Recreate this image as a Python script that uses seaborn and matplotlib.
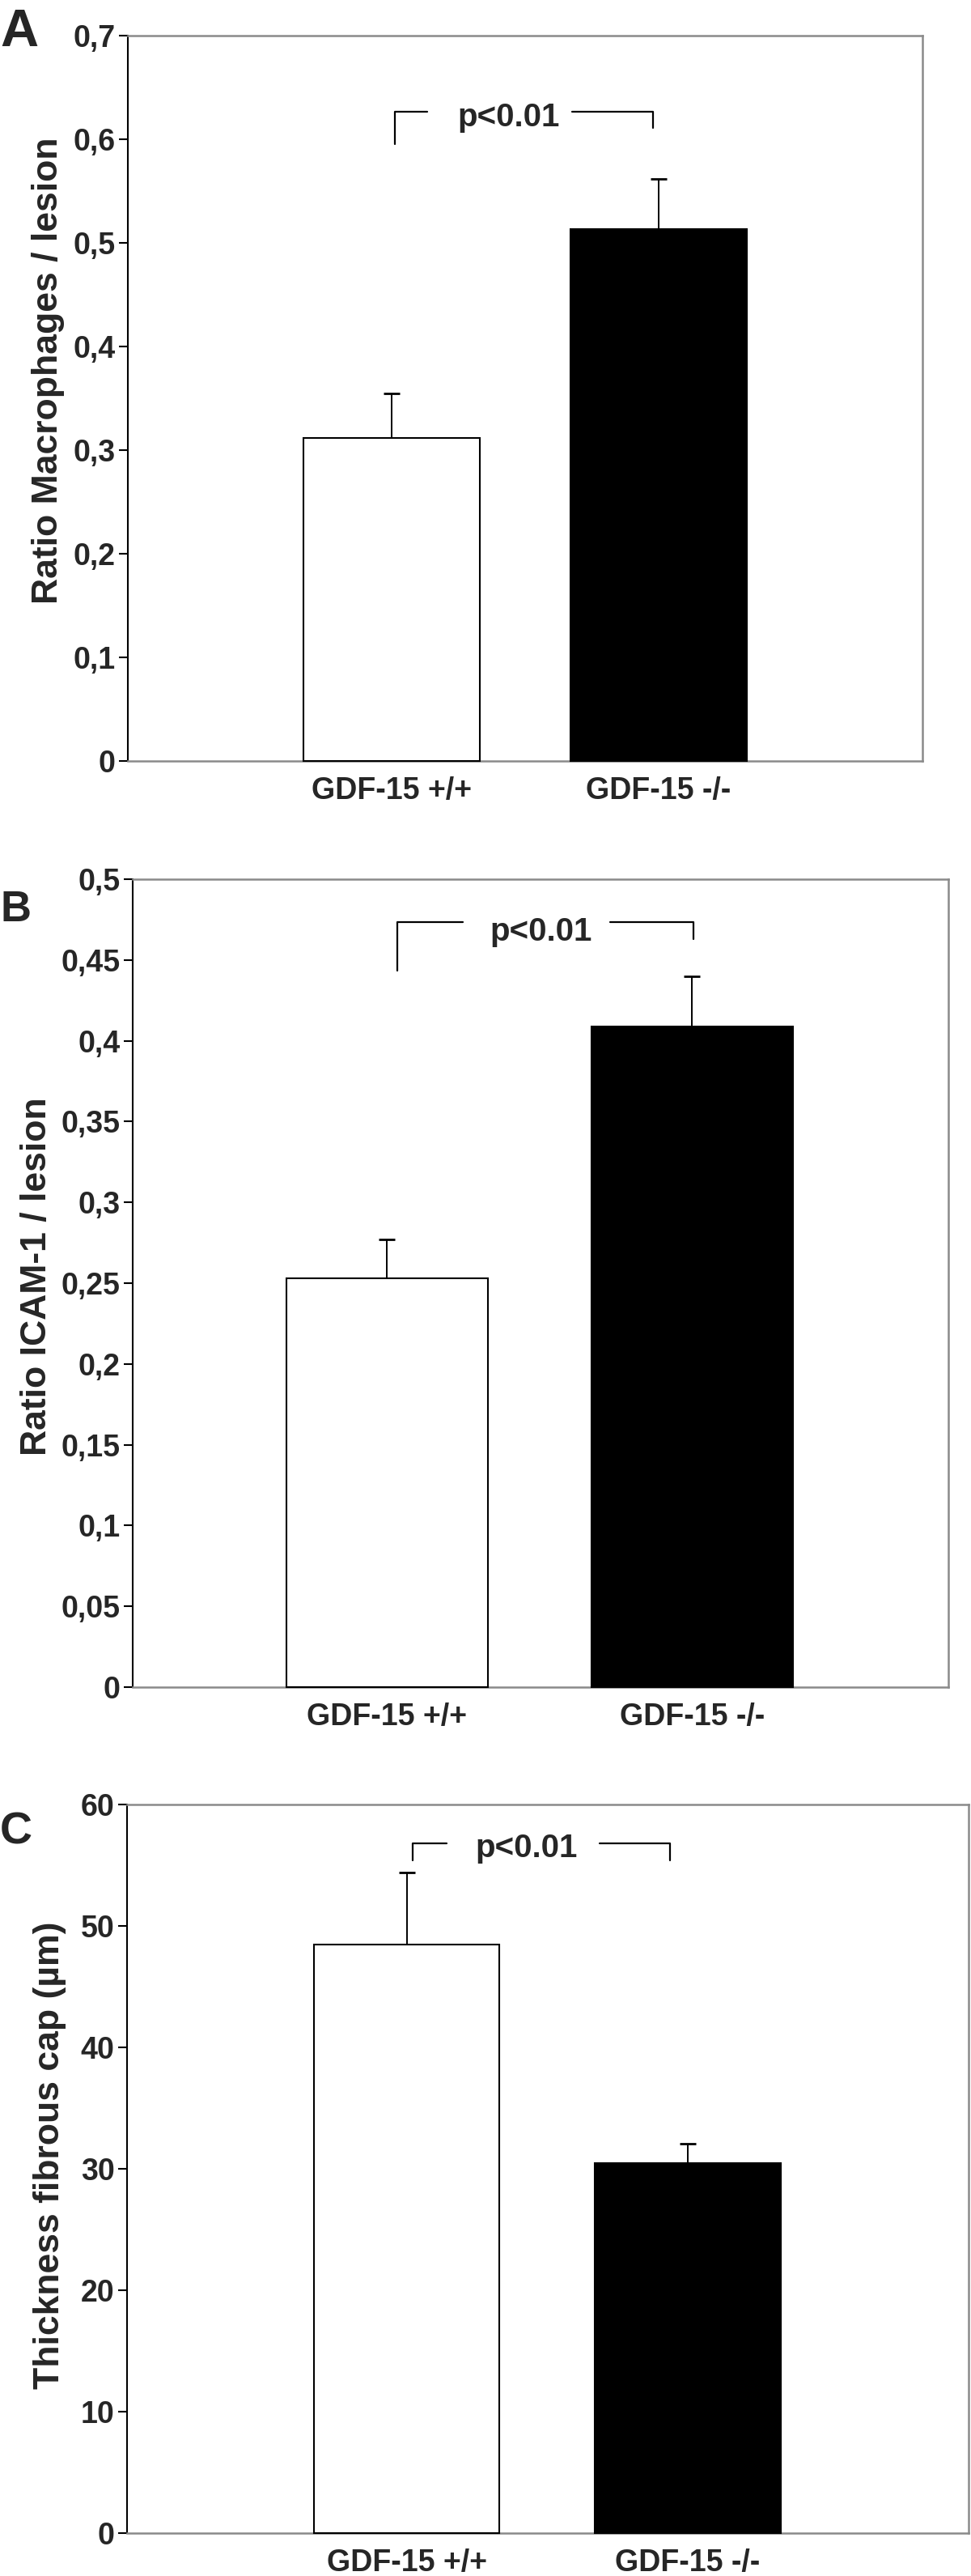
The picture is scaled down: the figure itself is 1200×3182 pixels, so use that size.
import numpy as np
import matplotlib.pyplot as plt
import seaborn as sns

# groups shared by all three panels
groups = ['GDF-15 +/+', 'GDF-15 -/-']
bar_colors = ['white', 'black']

# A: macrophages
mac_mean = [0.312, 0.513]
mac_err = [0.043, 0.049]
mac_ticks = [0, 0.1, 0.2, 0.3, 0.4, 0.5, 0.6, 0.7]
mac_ticklabels = ['0', '0,1', '0,2', '0,3', '0,4', '0,5', '0,6', '0,7']

# B: ICAM-1
icam_mean = [0.253, 0.409]
icam_err = [0.024, 0.031]
icam_ticks = [0, 0.05, 0.1, 0.15, 0.2, 0.25, 0.3, 0.35, 0.4, 0.45, 0.5]
icam_ticklabels = ['0', '0,05', '0,1', '0,15', '0,2', '0,25', '0,3', '0,35', '0,4', '0,45', '0,5']

# C: fibrous cap thickness
cap_mean = [48.5, 30.5]
cap_err = [5.9, 1.6]
cap_ticks = [0, 10, 20, 30, 40, 50, 60]
cap_ticklabels = ['0', '10', '20', '30', '40', '50', '60']

sns.set_style('white')
plt.rcParams['font.family'] = ['Liberation Sans', 'DejaVu Sans']
plt.rcParams['font.weight'] = 'bold'

W, H = 1200, 3182
fig = plt.figure(figsize=(W / 100, H / 100), dpi=100)


def px_rect(left, top, right, bottom):
    return [left / W, 1 - bottom / H, (right - left) / W, (bottom - top) / H]


def draw_panel(rect, mean, err, ticks, ticklabels, ylabel, label_xy, xlim,
               bracket, letter, letter_xy, letter_size):
    ax = fig.add_axes(rect)
    sns.barplot(x=groups, y=mean, hue=groups, palette=bar_colors, legend=False,
                edgecolor='black', linewidth=1.5, width=0.66, zorder=3, ax=ax)
    for p in ax.patches:
        p.set_clip_on(False)
    eb = ax.errorbar([0, 1], mean, yerr=[[0, 0], err], fmt='none', ecolor='black',
                     elinewidth=1.4, capsize=7, capthick=2, zorder=4)
    # only the upper cap is drawn in the original
    for cl in eb[1]:
        if np.allclose(cl.get_ydata(), mean):
            cl.set_visible(False)

    ax.set_xlim(*xlim)
    ax.set_ylim(ticks[0], ticks[-1])
    ax.set_yticks(ticks)
    ax.set_yticklabels(ticklabels)
    ax.tick_params(axis='y', left=True, length=8, width=1.5, pad=3,
                   labelsize=27, color='black')
    ax.tick_params(axis='x', bottom=False, length=0, pad=14, labelsize=27)
    for t in ax.get_xticklabels() + ax.get_yticklabels():
        t.set_fontweight('bold')

    for side in ['top', 'right', 'bottom']:
        ax.spines[side].set_color('#8a8a8a')
        ax.spines[side].set_linewidth(1.8)
    ax.spines['left'].set_color('black')
    ax.spines['left'].set_linewidth(1.5)

    ax.set_ylabel(ylabel, fontsize=32, fontweight='bold')
    ax.yaxis.set_label_coords(*label_xy)

    # significance bracket
    x0, x1, x2, x3, xt, ytop, yl, yr, ytxt = bracket
    ax.plot([x0, x0, x1], [yl, ytop, ytop], color='black', lw=1.6, zorder=5)
    ax.plot([x2, x3, x3], [ytop, ytop, yr], color='black', lw=1.6, zorder=5)
    ax.text(xt, ytxt, 'p<0.01', ha='center', va='baseline', fontsize=29,
            fontweight='bold')

    fig.text(letter_xy[0] / W, 1 - letter_xy[1] / H, letter, ha='left',
             va='baseline', fontsize=letter_size, fontweight='bold')
    return ax


draw_panel(px_rect(158, 44, 1140, 940), mac_mean, mac_err, mac_ticks, mac_ticklabels,
           'Ratio Macrophages / lesion', (-0.079, 0.538), (-0.99, 1.99),
           (0.01, 0.134, 0.675, 0.98, 0.437, 0.6266, 0.595, 0.611, 0.6125),
           'A', (0, 57), 47)

draw_panel(px_rect(164, 1086, 1172, 2084), icam_mean, icam_err, icam_ticks, icam_ticklabels,
           'Ratio ICAM-1 / lesion', (-0.097, 0.508), (-0.834, 1.84),
           (0.033, 0.249, 0.731, 1.004, 0.504, 0.4735, 0.4434, 0.463, 0.462),
           'B', (0, 1138), 38)

draw_panel(px_rect(157, 2229, 1197, 3129), cap_mean, cap_err, cap_ticks, cap_ticklabels,
           'Thickness fibrous cap (µm)', (-0.072, 0.519), (-0.997, 2.0),
           (0.02, 0.141, 0.686, 0.937, 0.424, 56.8, 55.4, 55.4, 55.7),
           'C', (0, 2277), 40)

fig.savefig('out.png', dpi=100, facecolor='white')
